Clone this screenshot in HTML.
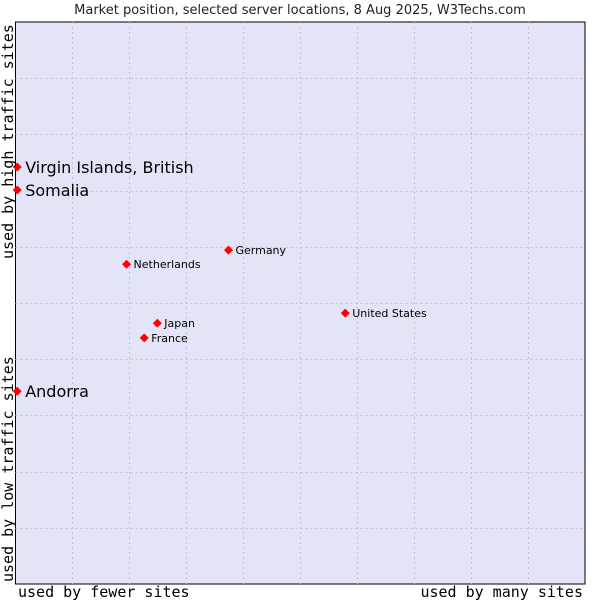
<!DOCTYPE html>
<html><head><meta charset="utf-8"><style>
body{margin:0;background:#fff;width:600px;height:600px;overflow:hidden}
svg text{font-family:"DejaVu Sans","Liberation Sans",sans-serif}
</style></head><body>
<svg id="chart" width="600" height="600" xmlns="http://www.w3.org/2000/svg">
<text x="300" y="14" font-size="13" text-anchor="middle" fill="#222">Market position, selected server locations, 8 Aug 2025, W3Techs.com</text>
<rect x="15.5" y="22" width="569.5" height="562" fill="#e3e4f8" stroke="#000" stroke-width="1"/>
<g id="grid"></g>
<g id="points"></g>
<text x="18" y="597" font-size="15" fill="#000" style="font-family:'DejaVu Sans Mono','Liberation Mono',monospace">used by fewer sites</text>
<text x="583" y="597" text-anchor="end" font-size="15" fill="#000" style="font-family:'DejaVu Sans Mono','Liberation Mono',monospace">used by many sites</text>
<text transform="translate(13,582) rotate(-90)" font-size="15" fill="#000" style="font-family:'DejaVu Sans Mono','Liberation Mono',monospace">used by low traffic sites</text>
<text transform="translate(13,259) rotate(-90)" font-size="15" fill="#000" style="font-family:'DejaVu Sans Mono','Liberation Mono',monospace">used by high traffic sites</text>
</svg>
<script>
const countries=["Virgin Islands, British","Somalia","Andorra","Netherlands","Germany","United States","Japan","France"];
const xValues=[0.3,0.3,0.3,19.5,37.4,57.9,24.9,22.6];
const yValues=[74.2,70.1,34.3,56.9,59.4,48.2,46.4,43.8];
const largeLabel=[true,true,true,false,false,false,false,false];
const X0=15.5,X1=585,Y0=584,Y1=22;
const sx=v=>X0+(X1-X0)*v/100;
const sy=v=>Y0-(Y0-Y1)*v/100;
const NS="http://www.w3.org/2000/svg";
const grid=document.getElementById('grid');
for(let i=1;i<10;i++){
 const v=document.createElementNS(NS,'line');
 
 
 const x=Math.round(sx(i*10))+0.5;
 v.setAttribute('x1',x);v.setAttribute('x2',x);v.setAttribute('y1',Y1);v.setAttribute('y2',Y0);
 v.setAttribute('stroke','#c4c4cc');v.setAttribute('stroke-dasharray','2,3');grid.appendChild(v);
 const h=document.createElementNS(NS,'line');
 
 
 const y=Math.round(sy(i*10))+0.5;
 h.setAttribute('x1',X0);h.setAttribute('x2',X1);h.setAttribute('y1',y);h.setAttribute('y2',y);
 h.setAttribute('stroke','#c4c4cc');h.setAttribute('stroke-dasharray','2,3');grid.appendChild(h);
}
const pts=document.getElementById('points');
countries.forEach((c,i)=>{
 const x=sx(xValues[i]),y=sy(yValues[i]);
 const d=document.createElementNS(NS,'polygon');
 
 
 d.setAttribute('points',`${x},${y-4.5} ${x+4.5},${y} ${x},${y+4.5} ${x-4.5},${y}`);
 d.setAttribute('fill','#f00');pts.appendChild(d);
 const t=document.createElementNS(NS,'text');
 
 
 t.setAttribute('x',x+(largeLabel[i]?8:7));
 t.setAttribute('y',y+(largeLabel[i]?6:4));
 t.setAttribute('font-size',largeLabel[i]?16:11);
 t.setAttribute('fill','#000');
 t.textContent=c;pts.appendChild(t);
});
</script>
</body></html>
